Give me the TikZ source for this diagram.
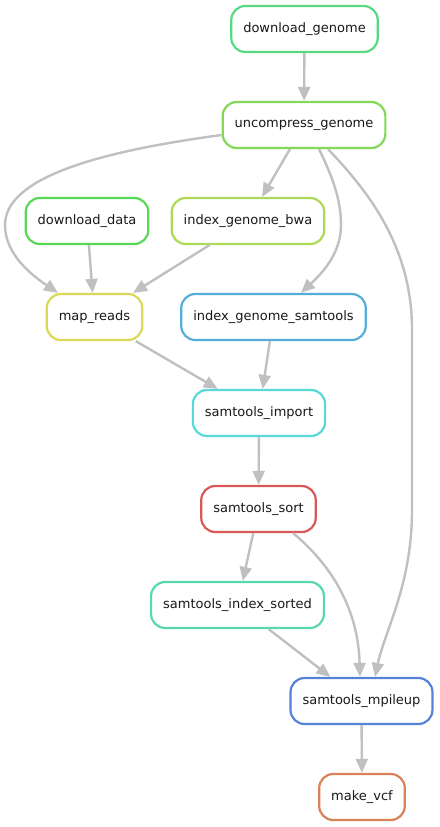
\documentclass[tikz,border=0pt]{standalone}
\usepackage{fontspec}
\setmainfont{DejaVu Sans}
\usetikzlibrary{arrows.meta}
\definecolor{c0}{HTML}{D95757}
\definecolor{c20}{HTML}{D98257}
\definecolor{c60}{HTML}{D9D957}
\definecolor{c80}{HTML}{ADD957}
\definecolor{c100}{HTML}{82D957}
\definecolor{c120}{HTML}{57D957}
\definecolor{c140}{HTML}{57D982}
\definecolor{c160}{HTML}{57D9AD}
\definecolor{c180}{HTML}{57D9D9}
\definecolor{c200}{HTML}{57ADD9}
\definecolor{c220}{HTML}{5782D9}
\definecolor{edgegray}{HTML}{C0C0C0}
\tikzset{
  rulebox/.style={draw=#1, line width=2.2pt, rounded corners=14pt, fill=white,
    minimum height=46pt, inner xsep=12pt, inner ysep=0pt,
    font=\fontsize{13pt}{15pt}\selectfont, text=black!90},
  dep/.style={draw=edgegray, line width=2.4pt,
    -{Triangle[length=14pt,width=12pt]}},
}
\begin{document}
\begin{tikzpicture}[x=1pt,y=-1pt]
\useasboundingbox (0,0) rectangle (439,827);
\node[rulebox=c140] (dg) at (304.5,29) {download\_genome};
\node[rulebox=c100] (ug) at (304,125) {uncompress\_genome};
\node[rulebox=c120] (dd) at (87,221) {download\_data};
\node[rulebox=c80] (bwa) at (248,221) {index\_genome\_bwa};
\node[rulebox=c60] (mr) at (94.5,317) {map\_reads};
\node[rulebox=c200] (igs) at (273.5,317) {index\_genome\_samtools};
\node[rulebox=c180] (si) at (259,413) {samtools\_import};
\node[rulebox=c0] (ss) at (258.5,509) {samtools\_sort};
\node[rulebox=c160] (sis) at (237.5,605) {samtools\_index\_sorted};
\node[rulebox=c220] (mp) at (361.5,701) {samtools\_mpileup};
\node[rulebox=c20] (vcf) at (362,797) {make\_vcf};

\draw[dep] (dg) -- (ug);
\draw[dep] ([yshift=-10pt]ug.west) .. controls (110,150) and (5,175) .. (5,225)
  .. controls (5,255) and (33,276) .. ([xshift=-36.5pt]mr.north);
\draw[dep] (ug) -- (bwa);
\draw[dep] ([xshift=15pt]ug.south) .. controls (333,178) and (341,200) .. (341,225)
  .. controls (341,255) and (320,275) .. ([xshift=27.5pt]igs.north);
\draw[dep] ([xshift=24pt]ug.south) .. controls (372,195) and (412,250) .. (412,330)
  -- (412,510) .. controls (412,585) and (385,630) .. ([xshift=13.5pt]mp.north);
\draw[dep] (dd) -- (mr);
\draw[dep] (bwa) -- (mr);
\draw[dep] (mr) -- (si);
\draw[dep] (igs) -- (si);
\draw[dep] (si) -- (ss);
\draw[dep] (ss) -- (sis);
\draw[dep] ([xshift=34.5pt]ss.south) .. controls (328,562) and (358,605) .. ([xshift=-1.5pt]mp.north);
\draw[dep] (sis) -- (mp);
\draw[dep] (mp) -- (vcf);
\end{tikzpicture}
\end{document}
